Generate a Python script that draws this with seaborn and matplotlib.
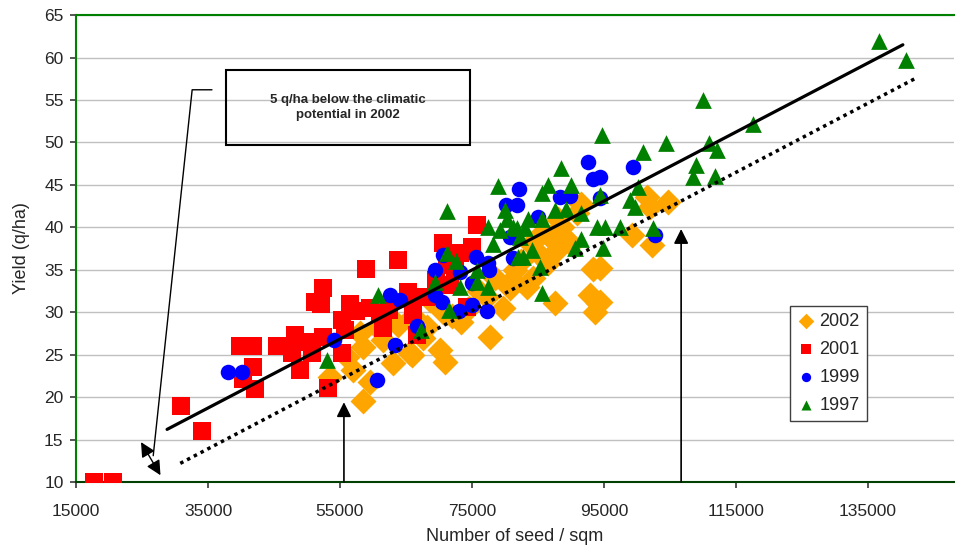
import pandas as pd
import seaborn as sns
import matplotlib.pyplot as plt
from matplotlib.patches import Rectangle

# Data (seed / sqm, yield q/ha)
seed_2002 = [53500, 58500, 59500, 57000, 56000, 61500, 63000, 65600, 67600, 68600,
             70100, 70900, 58000, 58500, 60600, 65900, 77700, 73300, 79700, 77300,
             81100, 81500, 80750, 84200, 86500, 87900, 86800, 89400, 88600, 90900,
             91600, 93300, 87600, 92900, 94100, 93600, 101500, 104700, 102000, 99200,
             102300, 85300, 83300, 68200, 70600, 69100, 94400, 94400, 76000, 74500,
             72000, 78500, 82500, 84000, 85800, 88000, 90000, 63800, 66000]
yield_2002 = [22.4, 19.6, 21.8, 23.2, 24.7, 26.7, 24.0, 25.2, 27.0, 31.4,
              25.5, 24.1, 27.5, 25.9, 28.3, 25.0, 27.1, 28.8, 30.5, 31.8,
              33.8, 35.0, 32.8, 34.0, 35.8, 37.3, 38.9, 38.5, 40.0, 41.7,
              42.8, 35.1, 31.1, 32.0, 31.1, 30.0, 43.6, 43.0, 42.4, 39.1,
              37.9, 36.7, 33.0, 28.3, 30.0, 31.8, 35.2, 31.2, 32.5, 30.5,
              29.5, 34.0, 36.0, 38.0, 39.5, 41.0, 38.0, 28.5, 29.5]

seed_2001 = [17700, 20600, 30900, 34100, 39850, 41800, 45450, 40300, 41800, 42100,
             48200, 50000, 47700, 48900, 50750, 52400, 52400, 51200, 52200, 56500,
             55300, 55750, 55300, 58900, 59550, 53200, 63800, 75750, 70600, 75000,
             73200, 71200, 72400, 71700, 65300, 66000, 66000, 59500, 61000, 61500,
             66700, 74200, 57500, 62500, 68000, 69500]
yield_2001 = [10.0, 10.0, 19.0, 16.0, 26.0, 26.0, 26.0, 22.1, 23.5, 21.0,
              27.3, 26.5, 25.2, 23.2, 25.2, 27.1, 32.8, 31.2, 31.0, 31.0,
              29.1, 27.9, 25.2, 35.1, 30.5, 21.1, 36.1, 40.3, 38.1, 37.7,
              37.0, 35.6, 35.0, 33.2, 32.4, 30.5, 29.7, 30.5, 29.9, 28.1,
              27.3, 30.6, 30.2, 30.3, 31.8, 33.8]

seed_1999 = [38000, 40150, 60600, 54100, 63300, 62600, 64100, 66700, 69400, 70600,
             69400, 70450, 92600, 99400, 93300, 94400, 82100, 80150, 81800, 85000,
             88300, 89800, 94400, 102700, 80750, 81200, 75600, 77400, 73200, 77600,
             75000, 73000, 75000, 77300]
yield_1999 = [23.0, 23.0, 22.0, 26.7, 26.1, 32.0, 31.4, 28.4, 35.0, 36.7,
              32.0, 31.2, 47.7, 47.1, 45.7, 45.9, 44.5, 42.6, 42.6, 41.2,
              43.6, 43.7, 43.4, 39.1, 38.9, 36.4, 36.5, 35.8, 34.7, 35.0,
              33.4, 30.1, 30.8, 30.1]

seed_1997 = [136650, 140750, 110000, 117600, 110900, 112100, 104400, 100900, 108900, 108500,
             111800, 102400, 94700, 100100, 98900, 99700, 95100, 97400, 94800, 71200,
             78900, 88500, 86500, 90000, 85600, 94400, 87600, 89200, 91600, 93900,
             91600, 90600, 85300, 85600, 80000, 80300, 83500, 85600, 77400, 79200,
             78200, 81200, 81800, 83000, 82300, 84100, 82000, 82700, 71200, 69400,
             75700, 75700, 73200, 77400, 71500, 67300, 53000, 60800, 72600]
yield_1997 = [62.0, 59.7, 55.0, 52.2, 49.9, 49.1, 49.9, 48.9, 47.3, 45.9,
              46.1, 39.9, 50.9, 44.7, 43.2, 42.4, 40.0, 40.0, 37.6, 41.9,
              44.9, 47.0, 45.0, 45.0, 44.0, 43.8, 42.0, 42.1, 41.7, 40.0,
              38.6, 37.6, 35.3, 32.3, 42.0, 41.0, 41.0, 41.0, 40.0, 39.7,
              38.0, 40.0, 39.9, 39.9, 38.9, 37.3, 36.5, 36.5, 37.0, 33.6,
              35.0, 33.6, 33.0, 33.0, 30.3, 27.9, 24.4, 32.0, 36.0]

# trend line (all years) and the climatic-potential line 5 q/ha lower
trend_x = [28800, 140300]
trend_y = [16.2, 61.5]
potential_x = [30800, 142100]
potential_y = [12.2, 57.5]

years = ['2002', '2001', '1999', '1997']
colors = {'2002': '#FFA500', '2001': '#FF0000', '1999': '#0000FF', '1997': '#008000'}
markers = {'2002': 'D', '2001': 's', '1999': 'o', '1997': '^'}
sizes = {'2002': 175, '2001': 150, '1999': 125, '1997': 145}

df = pd.concat([
    pd.DataFrame({'seed': seed_2002, 'yield': yield_2002, 'year': '2002'}),
    pd.DataFrame({'seed': seed_2001, 'yield': yield_2001, 'year': '2001'}),
    pd.DataFrame({'seed': seed_1999, 'yield': yield_1999, 'year': '1999'}),
    pd.DataFrame({'seed': seed_1997, 'yield': yield_1997, 'year': '1997'}),
])

sns.set_theme(style='white')
plt.rcParams['font.family'] = ['Liberation Sans', 'DejaVu Sans']

fig = plt.figure(figsize=(9.55, 5.5), dpi=100)
ax = fig.add_axes([0.0796, 0.1236, 0.919, 0.849])

for yr in years:
    sub = df[df['year'] == yr]
    sns.scatterplot(data=sub, x='seed', y='yield', marker=markers[yr], color=colors[yr],
                    s=sizes[yr], linewidth=0, label=yr, ax=ax, zorder=3)

ax.plot(trend_x, trend_y, color='black', lw=2.3, zorder=4)
ax.plot(potential_x, potential_y, color='black', lw=2.5, linestyle=(0, (1, 1.2)), zorder=4)

ax.set_xlim(15000, 148000)
ax.set_ylim(10, 65)
ax.set_xticks(range(15000, 135001, 20000))
ax.set_yticks(range(10, 66, 5))
ax.yaxis.grid(True, color='#c0c0c0', lw=1)
ax.set_axisbelow(True)
ax.tick_params(axis='both', labelsize=12.5, length=4, color='#404040', direction='out',
               left=True, bottom=True)
ax.tick_params(axis='x', pad=12)
ax.tick_params(axis='y', pad=5)
ax.set_xlabel('Number of seed / sqm', fontsize=13, labelpad=6)
ax.set_ylabel('Yield (q/ha)', fontsize=13, labelpad=10)

ax.spines['left'].set_color('#008000')
ax.spines['top'].set_color('#008000')
ax.spines['bottom'].set_color('#004000')
ax.spines['right'].set_visible(False)
for side in ['left', 'top', 'bottom']:
    ax.spines[side].set_linewidth(1.5)

# callout box
ax.add_patch(Rectangle((37700, 49.7), 37000, 8.8, fill=False, edgecolor='black', lw=1.5, zorder=5))
ax.text(56200, 54.1, '5 q/ha below the climatic\npotential in 2002', ha='center', va='center',
        fontsize=9.5, fontweight='bold', linespacing=1.3, zorder=6)
ax.plot([35600, 32600, 26700], [56.2, 56.2, 13.1], color='black', lw=1, zorder=5)
ax.annotate('', xy=(24850, 14.7), xytext=(27800, 10.8),
            arrowprops=dict(arrowstyle='<|-|>', color='black', lw=1, mutation_scale=22,
                            shrinkA=0, shrinkB=0), zorder=6)

# arrows
ax.annotate('', xy=(55600, 19.4), xytext=(55600, 10),
            arrowprops=dict(arrowstyle='-|>', color='black', lw=1.2, mutation_scale=22,
                            shrinkA=0, shrinkB=0), zorder=6)
ax.annotate('', xy=(106700, 39.8), xytext=(106700, 10),
            arrowprops=dict(arrowstyle='-|>', color='black', lw=1.2, mutation_scale=22,
                            shrinkA=0, shrinkB=0), zorder=6)

leg = ax.legend(loc='upper left', bbox_to_anchor=(0.814, 0.377), borderaxespad=0,
                fontsize=13, markerscale=0.6, handlelength=0.9, handletextpad=0.3,
                labelspacing=0.6, fancybox=False, framealpha=1, borderpad=0.4)
leg.get_frame().set_edgecolor('#404040')
leg.get_frame().set_linewidth(1)

fig.savefig('out.png', dpi=100)
